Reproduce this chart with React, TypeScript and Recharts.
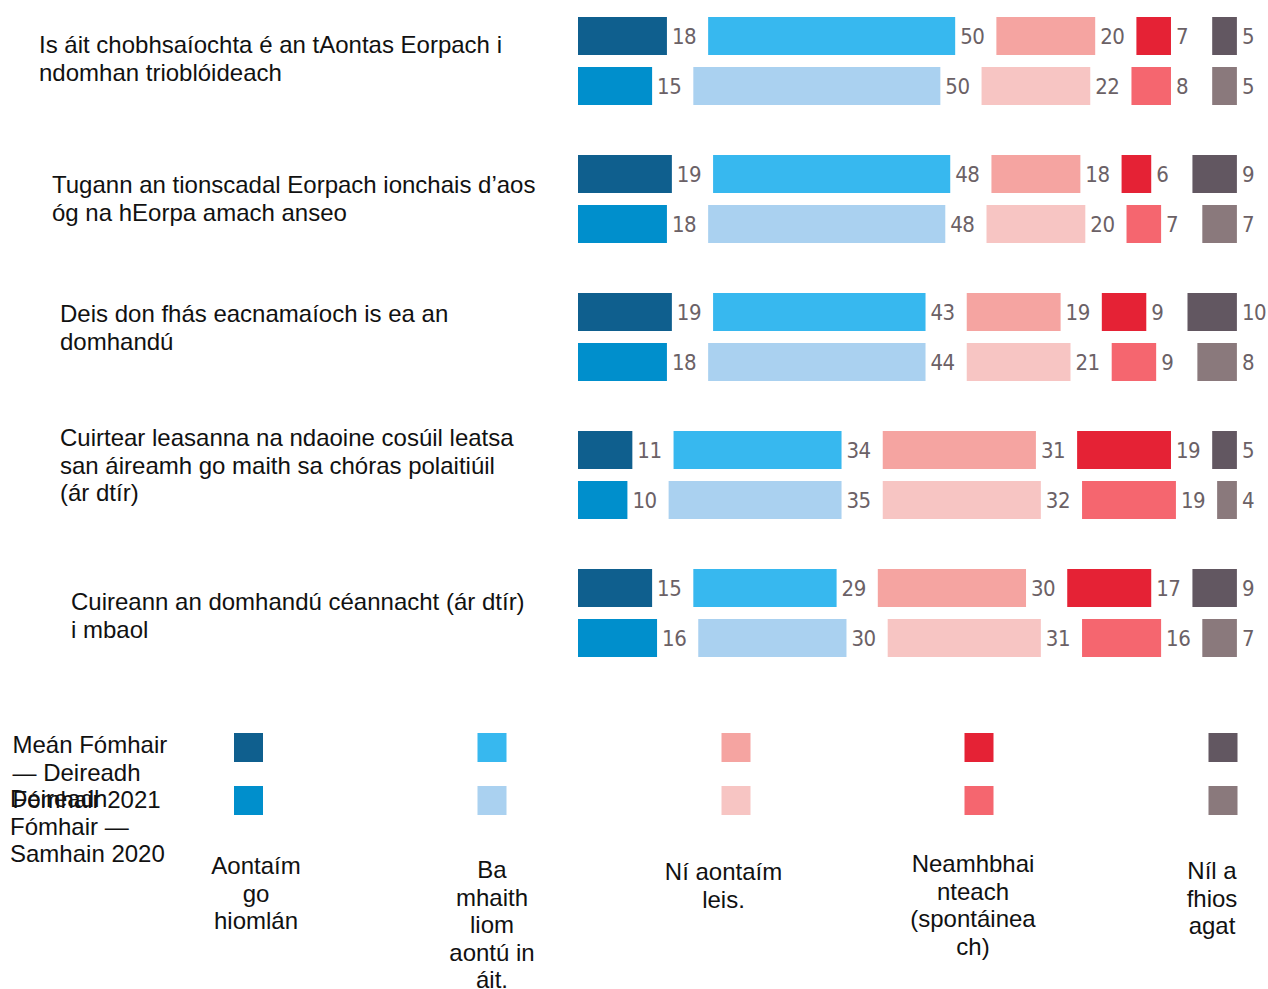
import React from 'react';
import { BarChart, Bar, XAxis, YAxis, LabelList } from 'recharts';

// statements (one per group of bars)
const categories = ['eu-stable', 'eu-young', 'globalisation-growth', 'voice-heard', 'identity-threat'];
const categoryLines = [
  ['Is áit chobhsaíochta é an tAontas Eorpach i', 'ndomhan trioblóideach'],
  ['Tugann an tionscadal Eorpach ionchais d’aos', 'óg na hEorpa amach anseo'],
  ['Deis don fhás eacnamaíoch is ea an', 'domhandú'],
  ['Cuirtear leasanna na ndaoine cosúil leatsa', 'san áireamh go maith sa chóras polaitiúil', '(ár dtír)'],
  ['Cuireann an domhandú céannacht (ár dtír)', 'i mbaol'],
];

// answers, Sep-Oct 2021
const fullyAgree2021 = [18, 19, 19, 11, 15];
const ratherAgree2021 = [50, 48, 43, 34, 29];
const disagree2021 = [20, 18, 19, 31, 30];
const neutral2021 = [7, 6, 9, 19, 17];
const dontKnow2021 = [5, 9, 10, 5, 9];

// answers, Oct-Nov 2020
const fullyAgree2020 = [15, 18, 18, 10, 16];
const ratherAgree2020 = [50, 48, 44, 35, 30];
const disagree2020 = [22, 20, 21, 32, 31];
const neutral2020 = [8, 7, 9, 19, 16];
const dontKnow2020 = [5, 7, 8, 4, 7];

const answerLines = [
  ['Aontaím', 'go', 'hiomlán'],
  ['Ba', 'mhaith', 'liom', 'aontú in', 'áit.'],
  ['Ní aontaím', 'leis.'],
  ['Neamhbhai', 'nteach', '(spontáinea', 'ch)'],
  ['Níl a', 'fhios', 'agat'],
];
const periodLines = [
  ['Meán Fómhair', '— Deireadh', 'Fómhair 2021'],
  ['Deireadh', 'Fómhair —', 'Samhain 2020'],
];

const colors2021 = ['#0f5f8e', '#37b8ef', '#f5a4a1', '#e52235', '#625761'];
const colors2020 = ['#008fcc', '#aad1f0', '#f7c5c3', '#f5666f', '#8a797c'];

const series2021 = [fullyAgree2021, ratherAgree2021, disagree2021, neutral2021, dontKnow2021];
const series2020 = [fullyAgree2020, ratherAgree2020, disagree2020, neutral2020, dontKnow2020];

// empty space left between segments for the value labels (in axis units)
const SPACER = 8.34;

const rows = categories.map((name, i) => {
  const row: Record<string, any> = { name };
  series2021.forEach((s, j) => { row[`a${j}`] = s[i]; });
  series2020.forEach((s, j) => { row[`b${j}`] = s[i]; });
  for (let j = 0; j < 4; j++) {
    row[`sa${j}`] = SPACER;
    row[`sb${j}`] = SPACER;
  }
  return row;
});

const TEXT_FONT = "'Liberation Sans', Arial, sans-serif";
const VALUE_FONT = "'Liberation Sans Narrow', 'DejaVu Sans Condensed', sans-serif";
const LINE_H = 27.6;

const labelX = [39, 52, 60, 60, 71];
const labelBaseline = [-8, -6, -15, -29, -3];

const CategoryTick = (props: any) => {
  const { y, payload } = props;
  const i = categories.indexOf(payload.value);
  if (i < 0) return null;
  return (
    <text x={labelX[i]} y={y + labelBaseline[i]} fontSize={24} fill="#111" fontFamily={TEXT_FONT}>
      {categoryLines[i].map((line, k) => (
        <tspan key={k} x={labelX[i]} dy={k === 0 ? 0 : LINE_H}>{line}</tspan>
      ))}
    </text>
  );
};

const renderStack = (prefix: 'a' | 'b', palette: string[]) => {
  const items: React.ReactNode[] = [];
  palette.forEach((color, j) => {
    items.push(
      <Bar key={`${prefix}${j}`} dataKey={`${prefix}${j}`} stackId={prefix} fill={color} isAnimationActive={false}>
        <LabelList
          dataKey={`${prefix}${j}`}
          position="right"
          offset={5}
          fill="#6b6166"
          fontSize={22}
          letterSpacing={-0.5}
          fontFamily={VALUE_FONT}
        />
      </Bar>
    );
    if (j < 4) {
      items.push(
        <Bar key={`s${prefix}${j}`} dataKey={`s${prefix}${j}`} stackId={prefix} fill="transparent" isAnimationActive={false} />
      );
    }
  });
  return items;
};

const legendSquareX = [248.5, 492, 736, 979, 1223];
const legendTextX = [256, 492, 723.5, 973, 1212];
const legendTextY = [874, 878, 880, 872, 879];
const periodX = [12.5, 10];
const periodY = [753, 807];

const Legend = () => (
  <svg width={1268} height={989} style={{ position: 'absolute', left: 0, top: 0 }}>
    {periodLines.map((lines, p) => (
      <text key={p} x={periodX[p]} y={periodY[p]} fontSize={24} fill="#111" fontFamily={TEXT_FONT}>
        {lines.map((line, k) => (
          <tspan key={k} x={periodX[p]} dy={k === 0 ? 0 : LINE_H}>{line}</tspan>
        ))}
      </text>
    ))}
    {answerLines.map((lines, j) => (
      <g key={j}>
        <rect x={legendSquareX[j] - 14.5} y={733} width={29} height={29} fill={colors2021[j]} />
        <rect x={legendSquareX[j] - 14.5} y={786} width={29} height={29} fill={colors2020[j]} />
        <text x={legendTextX[j]} y={legendTextY[j]} fontSize={24} fill="#111" fontFamily={TEXT_FONT} textAnchor="middle">
          {lines.map((line, k) => (
            <tspan key={k} x={legendTextX[j]} dy={k === 0 ? 0 : LINE_H}>{line}</tspan>
          ))}
        </text>
      </g>
    ))}
  </svg>
);

export default function App() {
  return (
    <div style={{ position: 'relative', width: 1268, height: 989, overflow: 'hidden', background: '#fff' }}>
      <style>{'body{margin:0}'}</style>
      <Legend />
      <div style={{ position: 'absolute', left: 0, top: -8 }}>
        <BarChart
          width={1268}
          height={690}
          data={rows}
          layout="vertical"
          barSize={38}
          barGap={12}
          margin={{ top: 0, right: 23, bottom: 0, left: 0 }}
        >
          <XAxis type="number" domain={[0, 135]} hide />
          <YAxis
            type="category"
            dataKey="name"
            width={578}
            axisLine={false}
            tickLine={false}
            interval={0}
            tick={<CategoryTick />}
          />
          {renderStack('a', colors2021)}
          {renderStack('b', colors2020)}
        </BarChart>
      </div>
    </div>
  );
}
